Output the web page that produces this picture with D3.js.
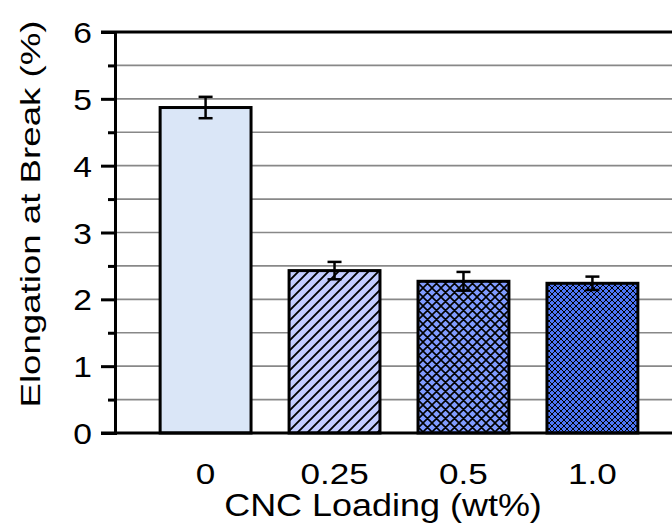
<!DOCTYPE html>
<html>
<head>
<meta charset="utf-8">
<script src="https://cdn.jsdelivr.net/npm/d3@7"></script>
<style>
  body { margin: 0; background: #fff; }
  text { font-family: "Liberation Sans", Arial, sans-serif; fill: #000; }
</style>
</head>
<body>
<svg id="chart"></svg>
<script>
const width = 672;
const height = 527;

// data
const loadings = ["0", "0.25", "0.5", "1.0"];
const elongation = [4.87, 2.43, 2.27, 2.24];
const errors = [0.16, 0.13, 0.14, 0.10];
const yTicks = [0, 1, 2, 3, 4, 5, 6];
const fills = ["#dae6f7", "#c3cdff", "#809bff", "#4d75f5"];
const patterns = [null, "diag", "hatch9", "hatch6"];

var svg = d3.select("#chart").attr("width", width).attr("height", height);

var yScale = d3.scaleLinear().domain([0, 6]).range([433, 32]);
var xScale = d3.scaleBand().domain(loadings).range([115, 683])
  .paddingInner(0.295).paddingOuter(0.35);

var defs = svg.append("defs");
function addPattern(id, size, fill, cross, sw) {
  var p = defs.append("pattern").attr("id", id)
    .attr("patternUnits", "userSpaceOnUse")
    .attr("width", size).attr("height", size);
  p.append("rect").attr("width", size).attr("height", size).attr("fill", fill);
  var d = `M0,${size} L${size},0 M${-size/2},${size/2} L${size/2},${-size/2} M${size/2},${size*1.5} L${size*1.5},${size/2}`;
  if (cross) d += ` M0,0 L${size},${size} M${-size/2},${size/2} L${size/2},${size*1.5} M${size/2},${-size/2} L${size*1.5},${size/2}`;
  p.append("path").attr("d", d).attr("stroke", "#000").attr("stroke-width", sw);
}
addPattern("diag", 10, fills[1], false, 1.9);
addPattern("hatch9", 9, fills[2], true, 1.6);
addPattern("hatch6", 6, fills[3], true, 1.0);

// grid lines every 0.5
var gridVals = d3.range(0.5, 6, 0.5);
svg.append("g").selectAll("line").data(gridVals).enter().append("line")
  .attr("x1", 115).attr("x2", width)
  .attr("y1", d => yScale(d)).attr("y2", d => yScale(d))
  .attr("stroke", "#888").attr("stroke-width", 1.6);

// bars
svg.append("g").selectAll("rect").data(loadings).enter().append("rect")
  .attr("x", d => xScale(d))
  .attr("width", xScale.bandwidth())
  .attr("y", (d, i) => yScale(elongation[i]))
  .attr("height", (d, i) => yScale(0) - yScale(elongation[i]))
  .attr("fill", (d, i) => patterns[i] ? `url(#${patterns[i]})` : fills[i])
  .attr("stroke", "#000").attr("stroke-width", 3);

// error bars
var eb = svg.append("g").attr("stroke", "#000").attr("stroke-width", 2.5);
loadings.forEach((d, i) => {
  var cx = xScale(d) + xScale.bandwidth() / 2;
  var top = yScale(elongation[i] + errors[i]), bot = yScale(elongation[i] - errors[i]);
  eb.append("line").attr("x1", cx).attr("x2", cx).attr("y1", top).attr("y2", bot);
  eb.append("line").attr("x1", cx - 7).attr("x2", cx + 7).attr("y1", top).attr("y2", top);
  eb.append("line").attr("x1", cx - 7).attr("x2", cx + 7).attr("y1", bot).attr("y2", bot);
});

// frame: top line, bottom line, left axis
svg.append("line").attr("x1", 101).attr("x2", width).attr("y1", yScale(6)).attr("y2", yScale(6))
  .attr("stroke", "#000").attr("stroke-width", 3);
svg.append("line").attr("x1", 101).attr("x2", width).attr("y1", yScale(0)).attr("y2", yScale(0))
  .attr("stroke", "#000").attr("stroke-width", 3);

var yAxis = d3.axisLeft(yScale).tickValues(yTicks).tickSize(14).tickFormat("");
var gy = svg.append("g").attr("transform", "translate(115,0)").call(yAxis);
gy.select(".domain").attr("stroke", "#000").attr("stroke-width", 3);
gy.selectAll(".tick line").attr("stroke", "#000").attr("stroke-width", 3);
var minor = d3.axisLeft(yScale).tickValues(d3.range(0.5, 6, 1)).tickSize(7).tickFormat("");
var gm = svg.append("g").attr("transform", "translate(115,0)").call(minor);
gm.select(".domain").remove();
gm.selectAll(".tick line").attr("stroke", "#000").attr("stroke-width", 3);

// stretched text helper (the picture is wider than plain Arial)
function label(x, y, str, size, sx, anchor, rot) {
  var t = svg.append("text")
    .attr("transform", `translate(${x},${y})` + (rot ? " rotate(-90)" : "") + ` scale(${sx},1)`)
    .attr("text-anchor", anchor).style("font-size", size + "px").text(str);
  return t;
}

yTicks.forEach(v => label(92, yScale(v) + 11, v, 30, 1.12, "end"));
loadings.forEach(d => label(xScale(d) + xScale.bandwidth() / 2, 484, d, 30, 1.17, "middle"));
label(383, 516, "CNC Loading (wt%)", 31, 1.16, "middle");
label(40, 214, "Elongation at Break (%)", 28, 1.31, "middle", true);
</script>
</body>
</html>
